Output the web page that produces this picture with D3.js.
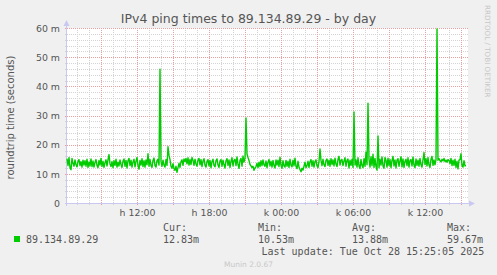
<!DOCTYPE html>
<html><head><meta charset="utf-8">
<script src="https://cdn.jsdelivr.net/npm/d3@7"></script>
<style>body{margin:0;background:#f0f0f0}svg{display:block}</style>
</head><body>
<svg id="c" width="497" height="275"></svg>
<script>
// ---- data (milliseconds, 5-minute samples) ----
const values = [
15.2,12.8,15.6,12.1,11.4,15.3,13.6,12.6,14.8,13.1,12.4,14.3,14.9,12.8,14.2,12.3,14.7,13.0,14.5,12.6,
15.0,12.2,14.1,12.7,15.1,12.5,14.4,12.3,13.9,14.9,12.9,12.1,14.6,13.0,15.3,12.6,14.3,12.2,13.8,14.8,
12.7,14.9,16.6,13.4,12.5,14.2,12.1,14.5,12.9,15.0,12.3,14.0,12.7,14.8,13.2,12.2,14.4,15.1,12.6,14.6,
12.0,14.5,15.3,12.8,14.7,12.3,14.1,15.0,12.4,14.3,15.6,12.9,11.6,14.6,13.0,15.2,12.5,14.5,12.3,14.8,
13.1,16.9,12.6,14.9,12.9,12.2,14.6,15.4,12.8,12.3,14.5,15.0,13.0,45.9,14.3,12.6,14.7,13.0,12.3,14.9,
12.9,19.3,16.4,14.9,12.6,11.9,13.5,11.8,11.2,12.6,10.53,12.1,13.6,12.2,14.2,14.8,12.9,15.1,14.2,15.3,
13.4,15.5,13.0,14.9,13.2,15.6,14.7,12.9,15.0,13.4,12.6,14.8,15.3,13.1,14.9,12.5,14.4,15.2,13.0,12.3,
14.3,14.9,12.7,14.6,12.1,14.2,15.0,12.9,12.4,14.5,15.1,13.0,12.2,14.4,14.9,12.6,14.7,13.1,12.0,14.5,
15.2,12.9,14.8,12.2,14.3,15.5,12.7,14.6,15.0,12.8,15.8,13.2,11.9,14.6,15.3,12.6,16.1,14.0,15.4,29.2,
16.8,15.6,14.6,13.2,12.7,12.1,12.6,11.2,12.0,12.5,13.6,12.1,14.0,12.5,14.5,12.8,14.8,13.1,12.6,14.4,
12.1,14.0,14.9,12.7,14.3,12.3,14.6,12.8,12.0,14.8,13.0,14.7,12.5,15.7,12.9,11.9,14.5,12.7,12.3,14.6,
12.6,14.3,12.2,15.0,13.0,12.4,14.7,12.8,15.4,12.5,11.8,14.3,12.3,11.5,10.7,11.9,11.3,12.6,14.0,12.1,
12.8,14.3,12.2,14.1,14.9,12.6,14.5,12.3,14.2,14.8,12.7,12.1,14.3,18.5,14.6,12.8,15.0,13.1,12.5,14.6,
15.1,12.9,14.7,12.6,15.2,13.2,14.8,12.7,15.4,13.3,12.5,15.0,16.0,13.0,14.7,14.9,12.8,14.4,15.5,12.6,
14.6,15.1,12.0,14.7,12.9,15.0,12.2,31.2,13.0,14.8,12.3,15.5,12.7,11.8,14.9,12.9,12.1,15.2,12.6,17.4,
13.1,34.2,15.0,12.3,15.9,12.8,16.7,12.2,15.3,12.5,11.3,23.0,12.1,15.0,13.0,15.8,12.7,11.9,15.6,14.6,
12.3,15.4,12.8,14.9,12.1,14.6,16.0,12.7,14.8,12.0,14.7,15.2,12.6,14.4,15.9,12.4,15.1,12.2,14.3,15.0,
12.8,15.5,12.3,14.6,14.9,12.7,15.8,13.0,12.1,15.1,12.9,14.7,12.6,15.3,13.1,12.3,14.8,17.3,13.2,15.2,
12.7,15.6,13.0,12.2,15.0,16.0,12.9,14.8,13.1,14.9,59.67,14.7,15.2,14.5,14.1,15.0,14.4,15.3,14.2,14.7,
14.0,14.9,14.6,13.5,15.3,12.8,14.7,12.9,15.0,12.2,14.3,11.7,14.7,14.9,16.9,12.9,12.3,14.5,12.7,12.83
];
const yTickValues = [0, 10, 20, 30, 40, 50, 60];
const yTickLabels = ["0", "10 m", "20 m", "30 m", "40 m", "50 m", "60 m"];
const dayAbbr = ["v", "h", "k", "sze", "cs", "p", "szo"];
const seriesName = "89.134.89.29";
const legendHeaders = ["Cur:", "Min:", "Avg:", "Max:"];
const legendValues = ["12.83m", "10.53m", "13.88m", "59.67m"];
const titleText = "IPv4 ping times to 89.134.89.29 - by day";
const yTitle = "roundtrip time (seconds)";
const lastUpdate = "Last update: Tue Oct 28 15:25:05 2025";
const footer = "Munin 2.0.67";
const watermark = "RRDTOOL / TOBI OETIKER";
const startTime = Date.UTC(2025, 9, 27, 6, 10);
const stepMinutes = 5;

// ---- layout ----
const L = 67, R = 467, T = 28, B = 203;
const svg = d3.select("#c");
const stepMs = stepMinutes * 60000;
const t0 = new Date(startTime), t1 = new Date(startTime + values.length * stepMs);
const x = d3.scaleUtc().domain([t0, t1]).range([L, R]);
const y = d3.scaleLinear().domain([0, 60]).range([B, T]);

const sans = "DejaVu Sans, sans-serif", mono = "DejaVu Sans Mono, monospace";

svg.append("rect").attr("x", L).attr("y", T).attr("width", R - L + 1).attr("height", B - T).attr("fill", "#fff");

const g = svg.append("g").attr("shape-rendering", "crispEdges");
// horizontal grid
const hMinor = d3.range(0, 61, 2).filter(v => v % 10 !== 0);
g.selectAll(".hm").data(hMinor).join("line")
  .attr("x1", L - 2).attr("x2", R + 1).attr("y1", d => Math.round(y(d)) + 0.5).attr("y2", d => Math.round(y(d)) + 0.5)
  .attr("stroke", "#d4d4d4").attr("stroke-dasharray", "1,1");
// vertical grid
const hours = d3.utcHour.every(1).range(t0, t1);
const vMinor = hours.filter(d => d.getUTCHours() % 3 !== 0);
const vMajor = hours.filter(d => d.getUTCHours() % 3 === 0);
g.selectAll(".vm").data(vMinor).join("line")
  .attr("x1", d => Math.round(x(d)) + 0.5).attr("x2", d => Math.round(x(d)) + 0.5).attr("y1", T).attr("y2", B + 2)
  .attr("stroke", "#d4d4d4").attr("stroke-dasharray", "1,1");
g.selectAll(".hM").data(yTickValues).join("line")
  .attr("x1", L - 2).attr("x2", R + 1).attr("y1", d => Math.round(y(d)) + 0.5).attr("y2", d => Math.round(y(d)) + 0.5)
  .attr("stroke", "#eaa0a0").attr("stroke-dasharray", "1,1");
g.selectAll(".vM").data(vMajor).join("line")
  .attr("x1", d => Math.round(x(d)) + 0.5).attr("x2", d => Math.round(x(d)) + 0.5).attr("y1", T).attr("y2", B + 3)
  .attr("stroke", "#eaa0a0").attr("stroke-dasharray", "1,1");

// axes lines + arrows
const axc = "#c8c8f0";
g.append("line").attr("x1", L - 2).attr("x2", R + 3).attr("y1", B + 0.5).attr("y2", B + 0.5).attr("stroke", axc);
g.append("line").attr("x1", L - 0.5).attr("x2", L - 0.5).attr("y1", B + 3).attr("y2", T - 4).attr("stroke", axc);
svg.append("path").attr("d", `M${L - 3.5},${T - 2}L${L + 2.5},${T - 2}L${L - 0.5},${T - 8}Z`).attr("fill", axc);
svg.append("path").attr("d", `M${R + 2},${B - 2.5}L${R + 2},${B + 3.5}L${R + 8},${B + 0.5}Z`).attr("fill", axc);

// series line
const line = d3.line().x((d, i) => x(new Date(startTime + i * stepMs))).y(d => y(d));
svg.append("path").datum(values).attr("d", line).attr("fill", "none")
  .attr("stroke", "#00cc00").attr("stroke-width", 1.4).attr("stroke-linejoin", "round");

// y axis labels
const yAxis = d3.axisLeft(y).tickValues(yTickValues).tickSize(0).tickPadding(0)
  .tickFormat((d, i) => yTickLabels[i]);
const ya = svg.append("g").attr("transform", `translate(${L - 7},0)`).call(yAxis);
ya.select(".domain").remove();
ya.selectAll("text").attr("font-family", sans).attr("font-size", 9.4).attr("fill", "#555").attr("dy", "0.35em");

// x axis labels
const xTicks = d3.utcHour.every(6).range(t0, t1);
const xAxis = d3.axisBottom(x).tickValues(xTicks).tickSize(0).tickPadding(0)
  .tickFormat(d => dayAbbr[d.getUTCDay()] + " " + d3.utcFormat("%H:%M")(d));
const xa = svg.append("g").attr("transform", `translate(0,${B})`).call(xAxis);
xa.select(".domain").remove();
xa.selectAll("text").attr("font-family", sans).attr("font-size", 9.4).attr("fill", "#555").attr("y", 13).attr("dy", 0);

// title
svg.append("text").attr("x", 248.5).attr("y", 23).attr("text-anchor", "middle")
  .attr("font-family", sans).attr("font-size", 12.5).attr("fill", "#555").text(titleText);
// y title
svg.append("text").attr("transform", `translate(14,${(T + B) / 2 + 2}) rotate(-90)`).attr("text-anchor", "middle")
  .attr("font-family", sans).attr("font-size", 10).attr("fill", "#555").text(yTitle);
// watermark
svg.append("text").attr("transform", `translate(485,5) rotate(90)`).attr("text-anchor", "start")
  .attr("font-family", sans).attr("font-size", 7.2).attr("fill", "#c8c8c8").text(watermark);

// legend
svg.append("rect").attr("x", 14).attr("y", 236).attr("width", 6).attr("height", 6).attr("fill", "#00cc00");
const mt = (tx, xx, yy, col) => svg.append("text").attr("x", xx).attr("y", yy)
  .attr("font-family", mono).attr("font-size", 10).attr("fill", col || "#555").attr("xml:space", "preserve").text(tx);
mt(seriesName, 26, 243);
const colX = [163, 258, 352, 447];
legendHeaders.forEach((h, i) => { mt(h, colX[i], 231); mt(legendValues[i], colX[i], 243); });
mt(lastUpdate, 261.5, 255);
svg.append("text").attr("x", 248.5).attr("y", 267).attr("text-anchor", "middle")
  .attr("font-family", sans).attr("font-size", 7.5).attr("fill", "#c8c8c8").text(footer);
</script>
</body></html>
